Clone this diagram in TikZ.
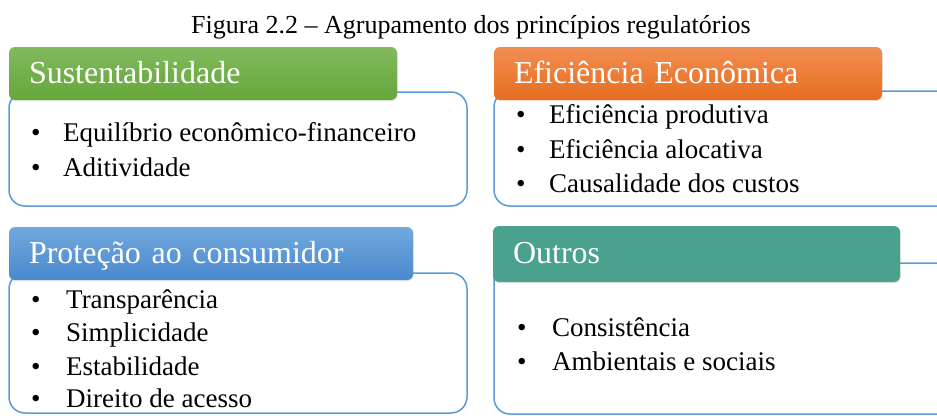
\documentclass[tikz,border=0pt]{standalone}
\usepackage{fontspec}
\setmainfont{Liberation Serif}
\usetikzlibrary{shadows}
\definecolor{outl}{HTML}{5B9BD5}
\definecolor{gtop}{HTML}{80BA5E}
\definecolor{gbot}{HTML}{66A63A}
\definecolor{otop}{HTML}{F28E52}
\definecolor{obot}{HTML}{E56D1F}
\definecolor{btop}{HTML}{72A8DD}
\definecolor{bbot}{HTML}{4A89CF}
\definecolor{teal}{HTML}{4AA18E}
\tikzset{
  bodybox/.style={draw=outl, line width=1.5pt, fill=white, rounded corners=16pt, rectangle, inner sep=0pt},
  hdr/.style={rectangle, rounded corners=6pt, inner xsep=20pt, inner ysep=0pt, text=white,
     font=\fontsize{32}{36}\selectfont, text height=23pt, text depth=4pt, align=left,
     minimum height=53pt, drop shadow={opacity=0.18, shadow xshift=0.8pt, shadow yshift=-1.2pt}},
  item/.style={anchor=base west, inner sep=0pt, font=\fontsize{27}{31}\selectfont},
  bul/.style={anchor=base west, inner sep=0pt, font=\fontsize{27}{31}\selectfont},
  ttl/.style={anchor=base, inner sep=0pt, font=\fontsize{26}{30}\selectfont}
}
\begin{document}
\begin{tikzpicture}[x=1pt,y=-1pt]
\useasboundingbox (0,0) rectangle (937,415);
\clip (0,0) rectangle (937,415);
\fill[white] (0,0) rectangle (937,415);
% title
\node[ttl] (title) at (471,33) {Figura 2.2 -- Agrupamento dos princípios regulatórios};
% body boxes
\node[bodybox, minimum width=458pt, minimum height=114pt] (b1) at (238,149) {};
\node[bodybox, minimum width=470pt, minimum height=115pt] (b2) at (729,148.5) {};
\node[bodybox, minimum width=458pt, minimum height=140pt] (b3) at (238,343) {};
\node[bodybox, minimum width=470pt, minimum height=151pt] (b4) at (729,338.5) {};
% headers
\node[hdr, top color=gtop, bottom color=gbot, text width=348pt] (h1) at (203,73.5) {Sustentabilidade};
\node[hdr, top color=otop, bottom color=obot, text width=348pt] (h2) at (688,73.5) {Eficiência Econômica};
\node[hdr, top color=btop, bottom color=bbot, text width=364pt] (h3) at (211,253.5) {Proteção ao consumidor};
\node[hdr, fill=teal, text width=367pt, minimum height=56pt] (h4) at (696.5,254) {Outros};
% box 1 items
\node[bul] (d11) at (31,141.5) {\textbullet};
\node[item] (t11) at (63,141.5) {Equilíbrio econômico-financeiro};
\node[bul] (d12) at (31,176) {\textbullet};
\node[item] (t12) at (63,176) {Aditividade};
% box 2 items
\node[bul] (d21) at (516,123.5) {\textbullet};
\node[item] (t21) at (549,123.5) {Eficiência produtiva};
\node[bul] (d22) at (516,158) {\textbullet};
\node[item] (t22) at (549,158) {Eficiência alocativa};
\node[bul] (d23) at (516,192) {\textbullet};
\node[item] (t23) at (549,192) {Causalidade dos custos};
% box 3 items
\node[bul] (d31) at (31,308) {\textbullet};
\node[item] (t31) at (66,308) {Transparência};
\node[bul] (d32) at (31,341) {\textbullet};
\node[item] (t32) at (66,341) {Simplicidade};
\node[bul] (d33) at (31,375) {\textbullet};
\node[item] (t33) at (66,375) {Estabilidade};
\node[bul] (d34) at (31,407) {\textbullet};
\node[item] (t34) at (66,407) {Direito de acesso};
% box 4 items
\node[bul] (d41) at (517,336) {\textbullet};
\node[item] (t41) at (552,336) {Consistência};
\node[bul] (d42) at (517,370) {\textbullet};
\node[item] (t42) at (552,370) {Ambientais e sociais};
\end{tikzpicture}
\end{document}
